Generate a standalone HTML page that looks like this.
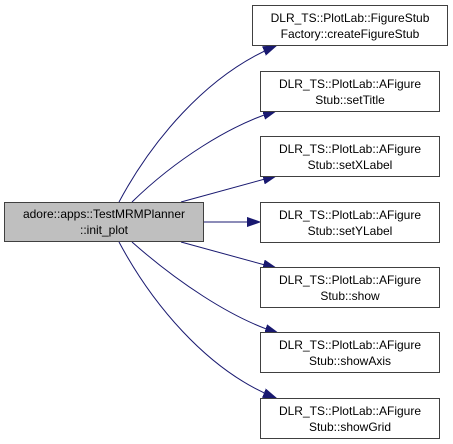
<!DOCTYPE html>
<html><head><meta charset="utf-8"><style>
html,body{margin:0;padding:0;background:#fff;width:453px;height:444px;overflow:hidden}
text{font-family:"Liberation Sans",Arial,sans-serif;font-size:12px;fill:#000}
</style></head><body>
<svg width="453" height="444" viewBox="0 0 453 444" xmlns="http://www.w3.org/2000/svg">
<defs>
<marker id="a" markerUnits="userSpaceOnUse" markerWidth="14" markerHeight="10" refX="13" refY="5" orient="auto">
<path d="M0,0.5 L13,5 L0,9.5 Z" fill="#191970" stroke="#191970"/>
</marker>
</defs>
<g fill="none" stroke="#191970" stroke-width="1">
<path d="M119,202 C150,144 205,75 276,46" marker-end="url(#a)"/>
<path d="M132,202 C175,160 230,125 276,111" marker-end="url(#a)"/>
<path d="M181,202 L276,176" marker-end="url(#a)"/>
<path d="M204,222 L260,222" marker-end="url(#a)"/>
<path d="M181,242 L276,268" marker-end="url(#a)"/>
<path d="M132,242 C175,280 230,318 278,333" marker-end="url(#a)"/>
<path d="M119,242 C150,300 205,370 276,398" marker-end="url(#a)"/>
</g>
<g stroke="#404040" stroke-width="1">
<rect x="4.5" y="202.5" width="199" height="39" fill="#bfbfbf"/>
<rect x="252.5" y="5.5" width="195" height="40" fill="#fff"/>
<rect x="260.5" y="71.5" width="179" height="40" fill="#fff"/>
<rect x="260.5" y="136.5" width="179" height="40" fill="#fff"/>
<rect x="260.5" y="202.5" width="179" height="40" fill="#fff"/>
<rect x="260.5" y="267.5" width="179" height="40" fill="#fff"/>
<rect x="260.5" y="332.5" width="179" height="40" fill="#fff"/>
<rect x="260.5" y="398.5" width="179" height="40" fill="#fff"/>
</g>
<g text-anchor="middle">
<text x="104" y="218">adore::apps::TestMRMPlanner</text>
<text x="104" y="234">::init_plot</text>
<text x="350" y="22">DLR_TS::PlotLab::FigureStub</text>
<text x="350" y="38">Factory::createFigureStub</text>
<text x="350" y="88">DLR_TS::PlotLab::AFigure</text>
<text x="350" y="104">Stub::setTitle</text>
<text x="350" y="153">DLR_TS::PlotLab::AFigure</text>
<text x="350" y="169">Stub::setXLabel</text>
<text x="350" y="219">DLR_TS::PlotLab::AFigure</text>
<text x="350" y="235">Stub::setYLabel</text>
<text x="350" y="284">DLR_TS::PlotLab::AFigure</text>
<text x="350" y="300">Stub::show</text>
<text x="350" y="349">DLR_TS::PlotLab::AFigure</text>
<text x="350" y="365">Stub::showAxis</text>
<text x="350" y="415">DLR_TS::PlotLab::AFigure</text>
<text x="350" y="431">Stub::showGrid</text>
</g>
</svg>
</body></html>
